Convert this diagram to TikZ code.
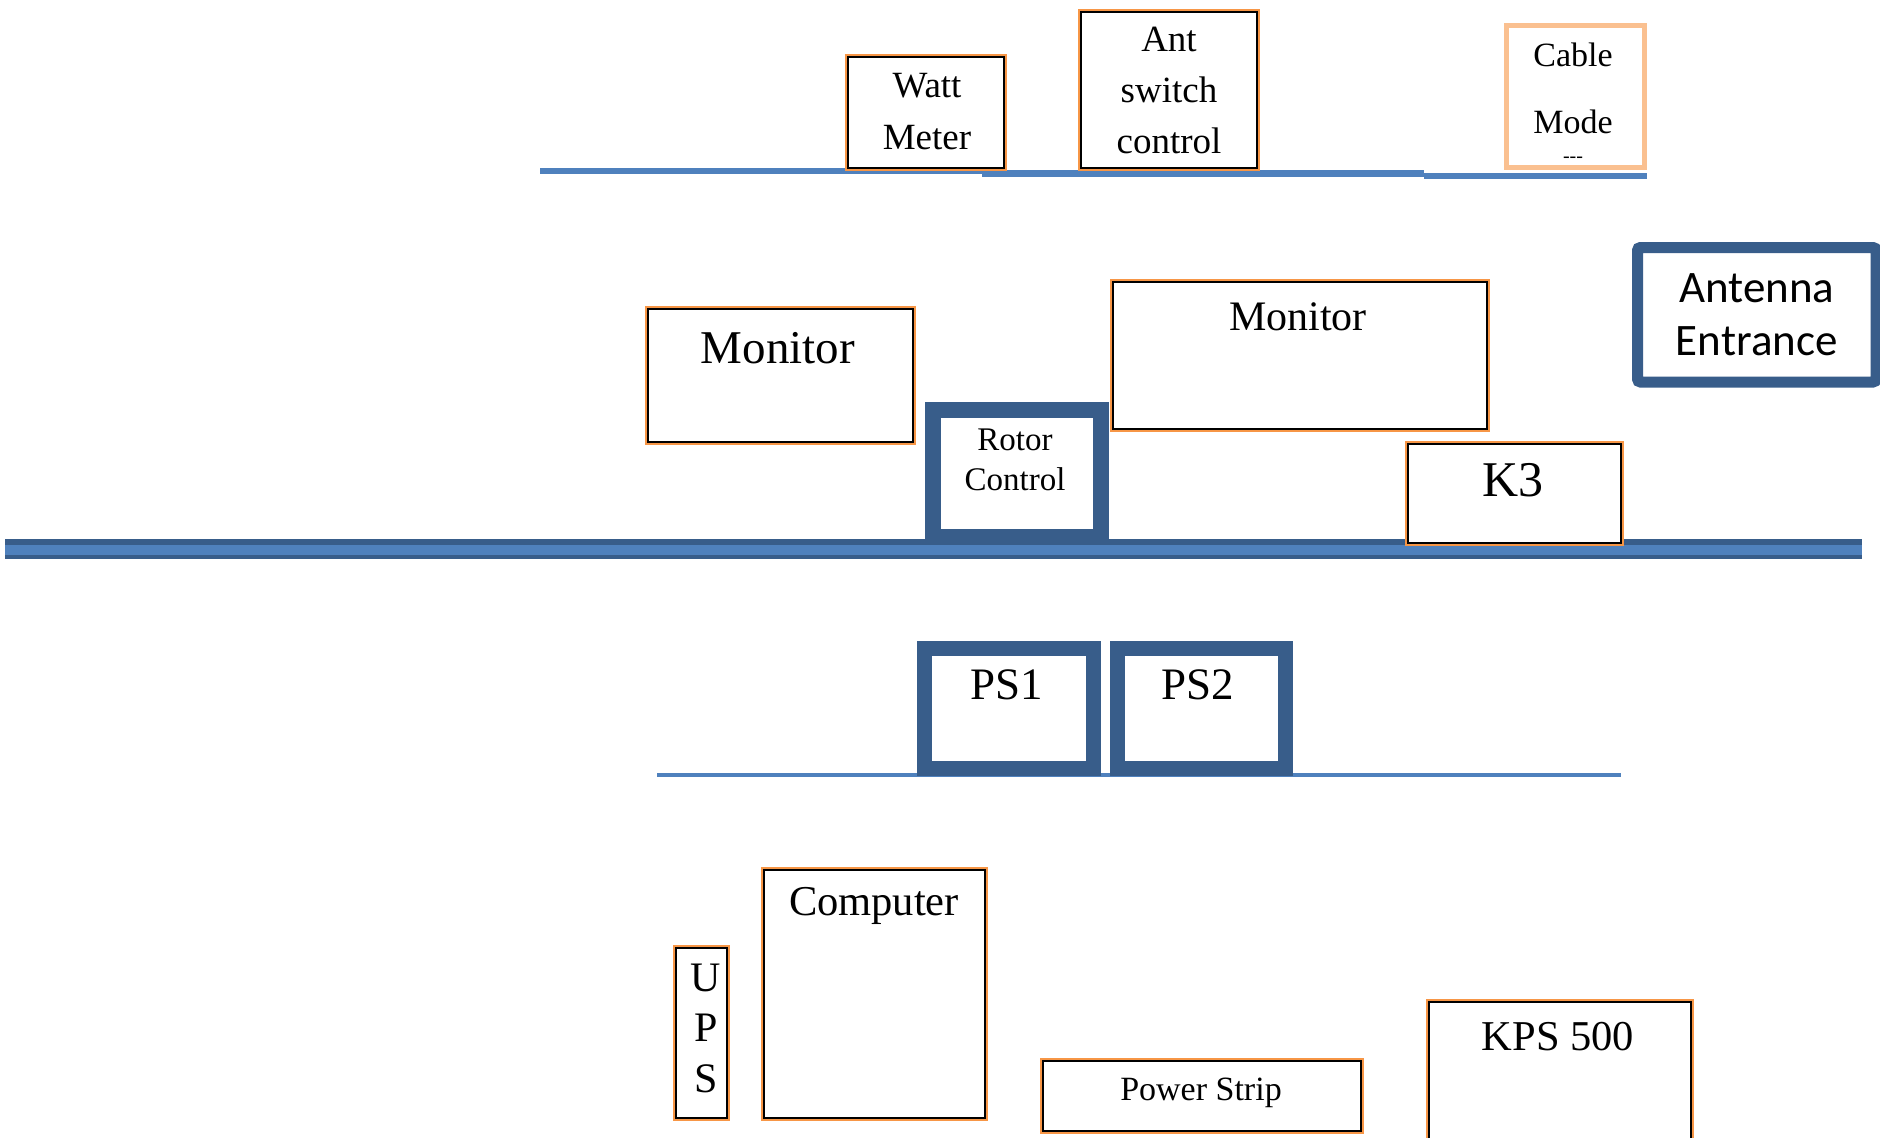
\documentclass[tikz,border=0pt]{standalone}
\usepackage{fontspec}
\setmainfont{Liberation Serif}
\newfontfamily\calibri{Carlito}
\usetikzlibrary{positioning}

\definecolor{shelfblue}{HTML}{4F81BD}
\definecolor{frameblue}{HTML}{385D8A}
\definecolor{trimorange}{HTML}{F79646}
\definecolor{peach}{HTML}{FAC090}

\tikzset{
    unit/.style={draw=black, line width=2pt, fill=white, inner sep=0pt,
        preaction={draw=trimorange, line width=6.5pt}},
    modem/.style={draw=peach, line width=5pt, fill=white, inner sep=0pt},
    psu/.style={draw=frameblue, line width=15pt, fill=white, inner sep=0pt},
    entry/.style={draw=frameblue, line width=11pt, rounded corners=3pt, fill=white, inner sep=0pt},
    shelf/.style={shelfblue, line width=6.5pt},
    lbl/.style={inner sep=0pt, align=center},
}

\begin{document}
\begin{tikzpicture}[x=1pt, y=-1pt]
        \useasboundingbox (0,0) rectangle (1880,1138);
        % shelves
        \draw[shelf] (540,171) -- (982,171);
        \draw[shelf] (982,173.5) -- (1424,173.5);
        \draw[shelf] (1424,176) -- (1647,176);
        \fill[frameblue] (5,539) rectangle (1862,559);
        \fill[shelfblue] (5,545) rectangle (1862,555);
        \draw[shelfblue, line width=4pt] (657,775) -- (1621,775);

        % upper shelf
        \node[unit, minimum width=156pt, minimum height=111pt] (watt) at (926,112.5) {};
        \node[lbl, font=\fontsize{37}{52}\selectfont] (watt-t) at (927,112) {Watt\\Meter};
        \node[unit, minimum width=176pt, minimum height=156pt] (antsw) at (1169,90) {};
        \node[lbl, font=\fontsize{37}{51}\selectfont] (antsw-t) at (1169,90.5) {Ant\\switch\\control};
        \node[modem, minimum width=138pt, minimum height=142pt] (cable) at (1575.5,96.5) {};
        \node[lbl, font=\fontsize{34}{67}\selectfont] (cable-t) at (1573,88.5) {Cable\\Mode};
        \node[lbl, font=\fontsize{20}{20}\selectfont] (cable-d) at (1573,160) {-{}-{}-};

        % desk
        \node[entry, minimum width=238.5pt, minimum height=134.5pt,
              font=\calibri\fontsize{45}{53}\selectfont, align=center] (entry) at (1756.75,314.75) {Antenna\\Entrance};
        \node[unit, minimum width=265pt, minimum height=133pt] (monl) at (780.5,375.5) {};
        \node[lbl, font=\fontsize{47}{56}\selectfont] (monl-t) at (778,348) {Monitor};
        \node[unit, minimum width=374pt, minimum height=147pt] (monr) at (1300,355.5) {};
        \node[lbl, font=\fontsize{42}{50}\selectfont] (monr-t) at (1298,317) {Monitor};
        \node[psu, line width=16pt, minimum width=168pt, minimum height=127pt] (rotor) at (1017,473.5) {};
        \node[lbl, font=\fontsize{33}{40}\selectfont] (rotor-t) at (1015,460) {Rotor\\Control};
        \node[unit, minimum width=213pt, minimum height=99pt] (k3) at (1514.5,493.5) {};
        \node[lbl, font=\fontsize{50}{60}\selectfont] (k3-t) at (1513,480) {K3};

        % lower shelf
        \node[psu, minimum width=168.5pt, minimum height=120pt] (ps1) at (1008.75,708) {};
        \node[psu, minimum width=168.5pt, minimum height=120pt, right=9pt of ps1] (ps2) {};
        \node[lbl, font=\fontsize{45}{54}\selectfont] (ps1-t) at (1007,685) {PS1};
        \node[lbl, font=\fontsize{45}{54}\selectfont] (ps2-t) at (1198,685) {PS2};

        % floor
        \node[unit, minimum width=51pt, minimum height=170pt] (ups) at (701.5,1033) {};
        \node[lbl, font=\fontsize{42}{50.5}\selectfont] (ups-t) at (706,1028) {U\\P\\S};
        \node[unit, minimum width=221pt, minimum height=248pt] (comp) at (874.5,994) {};
        \node[lbl, font=\fontsize{42.5}{50}\selectfont] (comp-t) at (874,906) {Computer};
        \node[unit, minimum width=318pt, minimum height=70pt] (strip) at (1202,1096) {};
        \node[lbl, font=\fontsize{34}{40}\selectfont] (strip-t) at (1201,1093) {Power Strip};
        \node[unit, minimum width=262pt, minimum height=148pt] (kps) at (1560,1076) {};
        \node[lbl, font=\fontsize{42.5}{50}\selectfont] (kps-t) at (1558,1037) {KPS 500};
\end{tikzpicture}
\end{document}
